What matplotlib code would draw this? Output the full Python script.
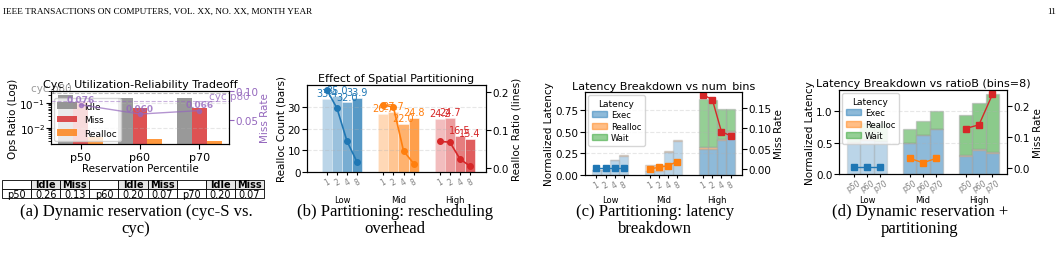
import matplotlib.pyplot as plt
import numpy as np
from matplotlib.transforms import blended_transform_factory
from matplotlib.patches import Patch

W, H = 1062, 255

# ---- data: (a) cyc-S reservation percentiles
pcts = ['p50', 'p60', 'p70']
idle_a = [0.20, 0.165, 0.165]
miss_a = [0.11, 0.065, 0.062]
realloc_a = [0.0042, 0.0037, 0.0030]
missrate_a = [0.076, 0.060, 0.066]
cyc_p80_idle = 0.26
cyc_p80_miss = 0.083
tbl_pcts = ['p50', 'p60', 'p70']
tbl_idle = ['0.26', '0.20', '0.20']
tbl_miss = ['0.13', '0.07', '0.07']

# ---- data: (b) partitioning, realloc count / ratio
loads = ['Low', 'Mid', 'High']
bins = ['1', '2', '4', '8']
count_low = [33.4, 35.0, 32.0, 33.9]
count_mid = [26.7, 27.7, 22.0, 24.8]
count_high = [24.2, 24.7, 16.5, 15.4]
ratio_low = [0.205, 0.157, 0.070, 0.015]
ratio_mid = [0.165, 0.160, 0.045, 0.012]
ratio_high = [0.070, 0.068, 0.024, 0.005]

# ---- data: (c) latency breakdown vs num_bins
exec_c = [[0.055, 0.055, 0.17, 0.225], [0.05, 0.05, 0.27, 0.39], [0.30, 0.30, 0.41, 0.50]]
realloc_c = [[0.005, 0.005, 0.005, 0.005], [0.06, 0.06, 0.01, 0.01], [0.02, 0.02, 0.005, 0.005]]
wait_c = [[0.0, 0.0, 0.0, 0.0], [0.0, 0.0, 0.0, 0.0], [0.56, 0.55, 0.345, 0.26]]
miss_c = [[0.003, 0.003, 0.003, 0.003], [0.0, 0.004, 0.008, 0.018], [0.183, 0.171, 0.092, 0.082]]

# ---- data: (d) latency breakdown vs ratioB (bins=8)
exec_d = [[0.50, 0.55, 0.52], [0.49, 0.62, 0.71], [0.29, 0.39, 0.34]]
realloc_d = [[0.01, 0.01, 0.01], [0.01, 0.01, 0.01], [0.01, 0.01, 0.01]]
wait_d = [[0.05, 0.25, 0.28], [0.21, 0.22, 0.28], [0.64, 0.74, 0.92]]
miss_d = [[0.004, 0.004, 0.004], [0.032, 0.018, 0.032], [0.127, 0.139, 0.236]]

group_colors = ['tab:blue', 'tab:orange', 'tab:red']
PURPLE = '#9467bd'
TICK = 7.5
LAB = 7.5
TITLE = 8


def px_rect(x0, y0, x1, y1):
    return [x0 / W, 1 - y1 / H, (x1 - x0) / W, (y1 - y0) / H]


fig = plt.figure(figsize=(W / 100, H / 100), dpi=100)
plt.rcParams['font.size'] = 6.5
serif = 'Liberation Serif'

fig.text(3 / W, 1 - 12 / H, 'IEEE TRANSACTIONS ON COMPUTERS, VOL. XX, NO. XX, MONTH YEAR',
         family=serif, fontsize=6.7, ha='left', va='center')
fig.text(1056 / W, 1 - 12 / H, '11', family=serif, fontsize=6.7, ha='right', va='center')


def caption(xc, line1, line2):
    fig.text(xc / W, 1 - 212 / H, line1, family=serif, fontsize=12, ha='center', va='center')
    fig.text(xc / W, 1 - 229 / H, line2, family=serif, fontsize=12, ha='center', va='center')


def group_labels(ax):
    tr = blended_transform_factory(ax.transData, fig.transFigure)
    for g, name in enumerate(loads):
        ax.text(g, 1 - 201 / H, name, transform=tr, fontsize=6, ha='center', va='center')


# ================= (a)
ax = fig.add_axes(px_rect(51, 92, 229, 145))
x = np.arange(len(pcts))
w = 0.25
ax.bar(x - w, idle_a, w, color='gray', alpha=0.8, label='Idle')
ax.bar(x, miss_a, w, color='tab:red', alpha=0.8, label='Miss')
ax.bar(x + w, realloc_a, w, color='tab:orange', alpha=0.8, label='Realloc')
ax.set_yscale('log')
ax.set_ylim(0.0023, 0.30)
ax.set_xlim(-0.5, 2.5)
ax.set_xticks(x)
ax.set_xticklabels(pcts, fontsize=8)
ax.tick_params(axis='y', labelsize=TICK, pad=1)
ax.tick_params(axis='x', pad=2)
ax.set_ylabel('Ops Ratio (Log)', fontsize=LAB, labelpad=1)
ax.set_xlabel('Reservation Percentile', fontsize=LAB, labelpad=1)
ax.set_title('Cyc : Utilization-Reliability Tradeoff', fontsize=TITLE, pad=3)
ax.grid(axis='y', ls='--', alpha=0.3)
ax.axhline(cyc_p80_idle, color='gray', ls='--', lw=0.8, alpha=0.5)
ax.text(-0.5, cyc_p80_idle, 'cyc p80', color='gray', fontsize=7.5, ha='center', va='bottom', alpha=0.8)
ax.legend(loc='lower left', fontsize=6.5, framealpha=0.8, handlelength=2.2, borderaxespad=0.3)

ax2 = ax.twinx()
ax2.plot(x, missrate_a, color=PURPLE, marker='o', ms=3, lw=1, alpha=0.7)
for xi, v in zip(x, missrate_a):
    ax2.text(xi, v + 0.002, f'{v:.3f}', color=PURPLE, fontsize=6.5, ha='center', va='bottom',
             fontweight='bold', alpha=0.8)
ax2.axhline(cyc_p80_miss, color=PURPLE, ls='--', lw=0.8, alpha=0.5)
ax2.text(2.5, cyc_p80_miss, 'cyc p80', color=PURPLE, fontsize=7.5, ha='center', va='bottom', alpha=0.8)
ax2.set_ylim(0.008, 0.10)
ax2.set_yticks([0.05, 0.10])
ax2.set_yticklabels(['0.05', '0.10'])
ax2.tick_params(axis='y', colors=PURPLE, labelsize=TICK, pad=1)
ax2.set_ylabel('Miss Rate', color=PURPLE, fontsize=LAB, labelpad=1)

# table under (a)
tax = fig.add_axes(px_rect(2, 181, 264, 199))
tax.axis('off')
header = []
row = []
for p, i_, m_ in zip(tbl_pcts, tbl_idle, tbl_miss):
    header += ['', 'Idle', 'Miss']
    row += [p, i_, m_]
tbl = tax.table(cellText=[header, row], bbox=[0, 0, 1, 1], cellLoc='center')
tbl.auto_set_font_size(False)
tbl.set_fontsize(7)
for (r, c), cell in tbl.get_celld().items():
    cell.set_linewidth(0.6)
    cell.PAD = 0.02
    if r == 0 and header[c]:
        cell.set_facecolor('#e6e6e6')
        cell.get_text().set_fontweight('bold')

caption(136, '(a) Dynamic reservation (cyc-S vs.', 'cyc)')

# ================= (b)
ax = fig.add_axes(px_rect(307, 86, 486, 173))
ax2 = ax.twinx()
bw = 0.18
alphas = [0.3, 0.45, 0.6, 0.75]
counts = [count_low, count_mid, count_high]
ratios = [ratio_low, ratio_mid, ratio_high]
tick_pos = []
tick_lab = []
for g, (cnt, rat, col) in enumerate(zip(counts, ratios, group_colors)):
    xs = g + (np.arange(len(bins)) - 1.5) * bw
    for j in range(len(bins)):
        ax.bar(xs[j], cnt[j], bw, color=col, alpha=alphas[j], edgecolor='white', lw=0.5)
        ax.text(xs[j], cnt[j] + 0.4, f'{cnt[j]:.1f}', color=col, fontsize=7, ha='center', va='bottom')
    ax2.plot(xs, rat, color=col, marker='o', ms=4, lw=1.2)
    tick_pos += list(xs)
    tick_lab += bins
ax.set_xlim(-0.62, 2.55)
ax.set_ylim(0, 40)
ax.set_yticks([0, 10, 20, 30])
ax2.set_ylim(-0.01, 0.2175)
ax2.set_yticks([0.0, 0.1, 0.2])
ax.set_xticks(tick_pos)
ax.set_xticklabels(tick_lab, rotation=30, color='gray', fontsize=5.5)
ax.tick_params(axis='x', pad=1, length=2)
ax.tick_params(axis='y', labelsize=TICK, pad=1)
ax2.tick_params(axis='y', labelsize=TICK, pad=1)
ax.set_ylabel('Realloc Count (bars)', fontsize=LAB, labelpad=1)
ax2.set_ylabel('Realloc Ratio (lines)', fontsize=LAB, labelpad=2)
ax.set_title('Effect of Spatial Partitioning', fontsize=TITLE, pad=3)
ax.grid(axis='y', ls='--', alpha=0.3)
group_labels(ax)
caption(395, '(b) Partitioning: rescheduling', 'overhead')

# ================= stacked latency panels
exec_col = '#1f77b4'
realloc_col = '#ff7f0e'
wait_col = '#2ca02c'


def latency_panel(rect, execs, reallocs, waits, misses, labels, bw, xlim, ylim, yticks, ylim2,
                  yticks2, galphas, title):
    ax = fig.add_axes(px_rect(*rect))
    ax2 = ax.twinx()
    n = len(labels)
    tick_pos, tick_lab = [], []
    for g in range(3):
        xs = g + (np.arange(n) - (n - 1) / 2) * bw
        e = np.array(execs[g])
        r = np.array(reallocs[g])
        wt = np.array(waits[g])
        a = galphas[g]
        ax.bar(xs, e, bw, color=exec_col, alpha=a, edgecolor='#aaaaaa', lw=1.0)
        ax.bar(xs, r, bw, bottom=e, color=realloc_col, alpha=a, edgecolor='#aaaaaa', lw=1.0)
        ax.bar(xs, wt, bw, bottom=e + r, color=wait_col, alpha=a, edgecolor='#aaaaaa', lw=1.0)
        ax2.plot(xs, misses[g], color=group_colors[g], marker='s', ms=4, lw=1)
        tick_pos += list(xs)
        tick_lab += labels
    ax.set_xlim(*xlim)
    ax.set_ylim(*ylim)
    ax.set_yticks(yticks)
    ax2.set_ylim(*ylim2)
    ax2.set_yticks(yticks2)
    ax.set_xticks(tick_pos)
    ax.set_xticklabels(tick_lab, rotation=30, color='gray', fontsize=5.5)
    ax.tick_params(axis='x', pad=1, length=2)
    ax.tick_params(axis='y', labelsize=TICK, pad=1)
    ax2.tick_params(axis='y', labelsize=TICK, pad=1)
    ax.set_ylabel('Normalized Latency', fontsize=LAB, labelpad=1)
    ax2.set_ylabel('Miss Rate', fontsize=LAB, labelpad=2)
    ax.set_title(title, fontsize=TITLE, pad=3)
    ax.grid(axis='y', ls='--', alpha=0.3)
    handles = [Patch(color=exec_col, alpha=0.5), Patch(color=realloc_col, alpha=0.5),
               Patch(color=wait_col, alpha=0.5)]
    ax.legend(handles, ['Exec', 'Realloc', 'Wait'], title='Latency', loc='upper left',
              fontsize=6, title_fontsize=6.5, framealpha=0.8, handlelength=1.8,
              handletextpad=0.5, borderaxespad=0.4, labelspacing=0.3)
    group_labels(ax)
    return ax


latency_panel((585, 93, 742, 176), exec_c, realloc_c, wait_c, miss_c, bins, 0.17,
              (-0.47, 2.47), (0, 0.96), [0.0, 0.25, 0.5, 0.75], (-0.015, 0.19),
              [0.0, 0.05, 0.10, 0.15], [0.3, 0.3, 0.5], 'Latency Breakdown vs num_bins')
caption(655, '(c) Partitioning: latency', 'breakdown')

latency_panel((839, 91, 1007, 175), exec_d, realloc_d, wait_d, miss_d, pcts, 0.24,
              (-0.5, 2.5), (0, 1.34), [0.0, 0.5, 1.0], (-0.018, 0.25), [0.0, 0.1, 0.2],
              [0.3, 0.5, 0.55], 'Latency Breakdown vs ratioB (bins=8)')
caption(920, '(d) Dynamic reservation +', 'partitioning')

fig.savefig('out.png', dpi=100)
